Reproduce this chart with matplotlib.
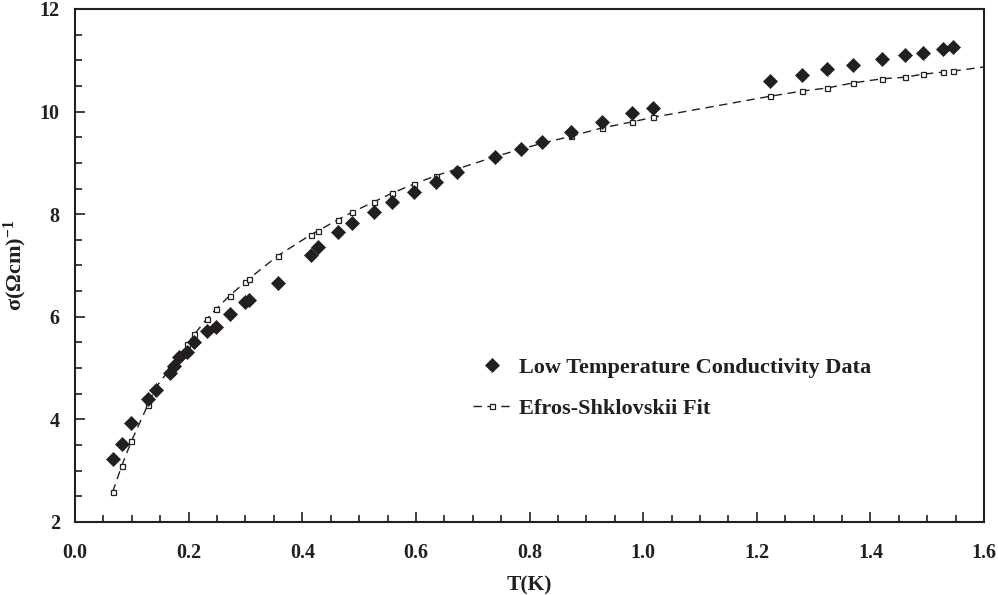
import matplotlib
matplotlib.use('Agg')
import matplotlib.pyplot as plt
from matplotlib.ticker import MultipleLocator, FormatStrFormatter

# ========== ДАННЫЕ ==========
T_data = [0.066, 0.082, 0.099, 0.128, 0.142, 0.168, 0.174, 0.183, 0.197, 0.210,
          0.232, 0.248, 0.272, 0.300, 0.306, 0.357, 0.415, 0.427, 0.462, 0.488,
          0.526, 0.558, 0.597, 0.635, 0.672, 0.739, 0.785, 0.822, 0.873, 0.927,
          0.981, 1.018, 1.224, 1.280, 1.324, 1.370, 1.421, 1.461, 1.493, 1.528,
          1.546]
sigma_data = [3.23, 3.53, 3.92, 4.40, 4.57, 4.91, 5.05, 5.22, 5.31, 5.51,
              5.72, 5.81, 6.05, 6.29, 6.33, 6.66, 7.20, 7.37, 7.65, 7.82,
              8.04, 8.23, 8.44, 8.63, 8.82, 9.11, 9.28, 9.41, 9.61, 9.80,
              9.97, 10.07, 10.60, 10.71, 10.83, 10.91, 11.03, 11.10, 11.14, 11.22,
              11.26]
sigma_fit = [2.58, 3.09, 3.57, 4.28, 4.62, 5.00, 5.09, 5.22, 5.46, 5.66,
             5.96, 6.15, 6.41, 6.68, 6.74, 7.19, 7.60, 7.67, 7.89, 8.04,
             8.24, 8.41, 8.59, 8.75, 8.88, 9.12, 9.27, 9.38, 9.52, 9.68,
             9.80, 9.89, 10.30, 10.40, 10.46, 10.56, 10.64, 10.67, 10.73, 10.77,
             10.79]
# fit curve continues to the right edge without a marker
T_fit_end = 1.6
sigma_fit_end = 10.87

x_ticks = [0.0, 0.2, 0.4, 0.6, 0.8, 1.0, 1.2, 1.4, 1.6]
y_ticks = [2, 4, 6, 8, 10, 12]

INK = '#231f20'

plt.rcParams['font.family'] = ['Liberation Serif', 'DejaVu Serif']
plt.rcParams['font.weight'] = 'bold'
plt.rcParams['mathtext.fontset'] = 'custom'
plt.rcParams['mathtext.rm'] = 'Liberation Serif:bold'
plt.rcParams['mathtext.bf'] = 'Liberation Serif:bold'
plt.rcParams['mathtext.default'] = 'rm'

fig = plt.figure(figsize=(9.98, 5.95), dpi=100)
ax = fig.add_axes([0.0752, 0.1227, 0.9108, 0.8622])

# линия фита + маркеры в точках данных
T_line = T_data + [T_fit_end]
s_line = sigma_fit + [sigma_fit_end]
ax.plot(T_line, s_line, color=INK, lw=1.0, linestyle=(0, (6, 4)),
        marker='s', ms=3.6, mfc='white', mec=INK, mew=0.9,
        markevery=list(range(len(T_data))), label='Efros-Shklovskii Fit', zorder=2)

ax.plot(T_data, sigma_data, linestyle='none', marker='D', ms=6.8,
        color=INK, mec=INK, mew=0.5, label='Low Temperature Conductivity Data', zorder=3)

ax.set_xlim(0.0, 1.6)
ax.set_ylim(2, 12)
ax.set_xticks(x_ticks)
ax.set_yticks(y_ticks)
ax.xaxis.set_major_formatter(FormatStrFormatter('%.1f'))
ax.yaxis.set_major_formatter(FormatStrFormatter('%d'))
ax.xaxis.set_minor_locator(MultipleLocator(0.05))
ax.yaxis.set_minor_locator(MultipleLocator(0.5))

ax.tick_params(which='both', direction='in', colors=INK, width=1.2,
               top=False, right=False, labelsize=14.5)
ax.tick_params(which='major', length=7)
ax.tick_params(which='minor', length=5)
ax.tick_params(axis='x', which='major', pad=15)
ax.tick_params(axis='y', which='major', pad=11)
for lab in ax.get_xticklabels() + ax.get_yticklabels():
    lab.set_fontweight('bold')

for sp in ax.spines.values():
    sp.set_linewidth(1.5)
    sp.set_color(INK)

ax.set_xlabel('T(K)', fontsize=15.5, fontweight='bold', color=INK, labelpad=9)
ax.set_ylabel('σ(Ωcm)$^{-1}$', fontsize=16, fontweight='bold', color=INK, labelpad=8)

handles, labels = ax.get_legend_handles_labels()
leg = ax.legend(handles[::-1], labels[::-1], loc='center left',
                bbox_to_anchor=(0.438, 0.261), frameon=False, numpoints=1,
                borderpad=0, borderaxespad=0,
                handlelength=1.7, handletextpad=0.36, labelspacing=0.9,
                prop={'family': 'Liberation Serif', 'weight': 'bold', 'size': 16})
for t in leg.get_texts():
    t.set_color(INK)

fig.savefig('out.png', dpi=100)
